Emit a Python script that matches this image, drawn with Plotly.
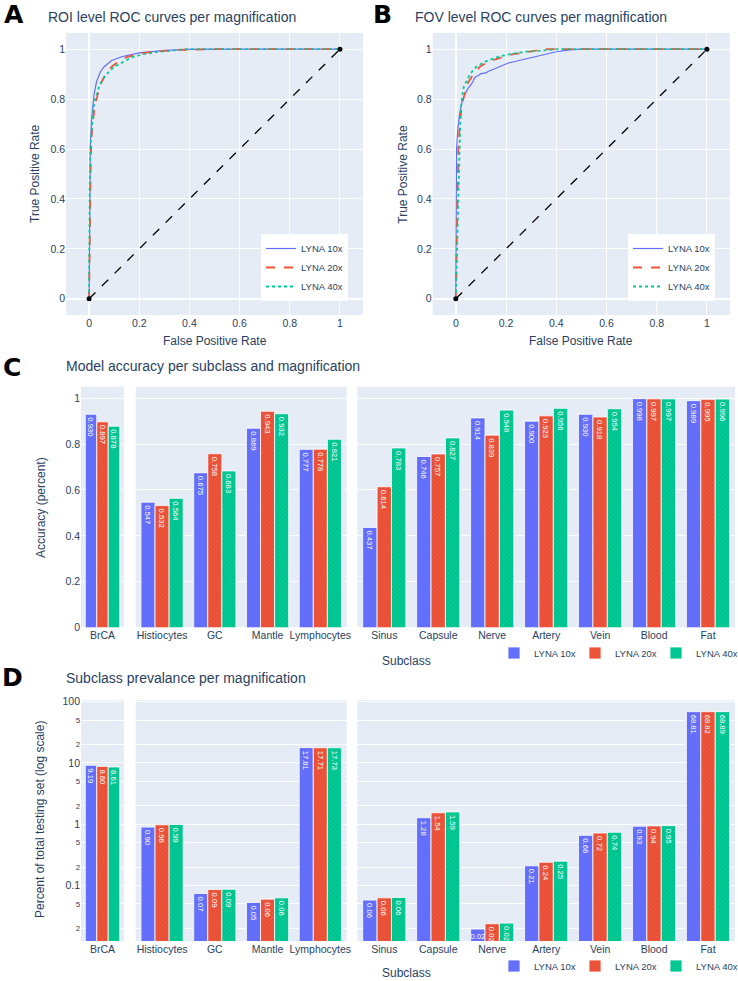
import plotly.graph_objects as go

W, H = 738, 981
FONT = "Liberation Sans, Arial, sans-serif"
TXT = "#2a3f5f"

mags = ["LYNA 10x", "LYNA 20x", "LYNA 40x"]
colors = ["#636efa", "#EF553B", "#00cc96"]
pat_fg = [None, "#c9402a", "#00a37a"]

# ---- ROC curves, ROI level (panel A) ----
roi_fpr_10x = [0, 0.002, 0.005, 0.01, 0.015, 0.02, 0.03, 0.045, 0.06, 0.09, 0.13, 0.2, 0.3, 0.4, 0.6, 1.0]
roi_tpr_10x = [0, 0.45, 0.62, 0.72, 0.78, 0.82, 0.87, 0.91, 0.93, 0.955, 0.97, 0.985, 0.995, 0.999, 1.0, 1.0]
roi_fpr_20x = [0, 0.003, 0.007, 0.012, 0.02, 0.03, 0.045, 0.066, 0.09, 0.116, 0.15, 0.19, 0.25, 0.35, 0.5, 1.0]
roi_tpr_20x = [0, 0.4, 0.58, 0.68, 0.75, 0.8, 0.86, 0.9, 0.93, 0.95, 0.968, 0.98, 0.99, 0.997, 1.0, 1.0]
roi_fpr_40x = [0, 0.002, 0.006, 0.012, 0.018, 0.025, 0.04, 0.055, 0.07, 0.1, 0.136, 0.17, 0.215, 0.28, 0.39, 1.0]
roi_tpr_40x = [0, 0.45, 0.62, 0.72, 0.77, 0.8, 0.85, 0.88, 0.9, 0.93, 0.95, 0.967, 0.98, 0.99, 1.0, 1.0]

# ---- ROC curves, FOV level (panel B) ----
fov_fpr_10x = [0, 0.001, 0.003, 0.008, 0.015, 0.025, 0.036, 0.05, 0.062, 0.07, 0.076, 0.09, 0.1, 0.12, 0.13,
               0.15, 0.17, 0.19, 0.21, 0.25, 0.28, 0.32, 0.36, 0.4, 0.455, 0.5, 1.0]
fov_tpr_10x = [0, 0.45, 0.6, 0.68, 0.74, 0.79, 0.82, 0.845, 0.86, 0.875, 0.888, 0.895, 0.902, 0.905, 0.912,
               0.92, 0.93, 0.937, 0.945, 0.955, 0.962, 0.97, 0.98, 0.99, 0.997, 1.0, 1.0]
fov_fpr_20x = [0, 0.003, 0.007, 0.01, 0.016, 0.022, 0.03, 0.045, 0.07, 0.096, 0.13, 0.19, 0.23, 0.3, 0.35, 1.0]
fov_tpr_20x = [0, 0.2, 0.4, 0.6, 0.7, 0.76, 0.8, 0.86, 0.9, 0.93, 0.95, 0.97, 0.98, 0.99, 1.0, 1.0]
fov_fpr_40x = [0, 0.005, 0.009, 0.013, 0.019, 0.025, 0.032, 0.056, 0.082, 0.116, 0.17, 0.215, 0.28, 0.4, 1.0]
fov_tpr_40x = [0, 0.2, 0.4, 0.6, 0.75, 0.81, 0.85, 0.9, 0.93, 0.95, 0.97, 0.98, 0.99, 1.0, 1.0]

chance_x = [0, 1]
chance_y = [0, 1]

# ---- Subclasses (panels C and D) ----
categories = ["BrCA", "Histiocytes", "GC", "Mantle", "Lymphocytes",
              "Sinus", "Capsule", "Nerve", "Artery", "Vein", "Blood", "Fat"]
group_sizes = [1, 4, 7]

acc_10x = [0.930, 0.547, 0.675, 0.869, 0.777, 0.437, 0.746, 0.914, 0.900, 0.930, 0.998, 0.989]
acc_20x = [0.897, 0.532, 0.758, 0.943, 0.778, 0.614, 0.757, 0.839, 0.923, 0.918, 0.997, 0.995]
acc_40x = [0.878, 0.564, 0.683, 0.932, 0.821, 0.783, 0.827, 0.948, 0.956, 0.954, 0.997, 0.996]

prev_10x = [9.19, 0.90, 0.074, 0.053, 17.81, 0.058, 1.28, 0.0195, 0.21, 0.66, 0.93, 68.81]
prev_20x = [8.80, 0.98, 0.086, 0.060, 17.71, 0.063, 1.54, 0.0238, 0.24, 0.72, 0.94, 68.82]
prev_40x = [8.61, 0.99, 0.087, 0.063, 17.73, 0.064, 1.59, 0.0244, 0.25, 0.74, 0.95, 68.89]


def px_x(p):
    return p / W


def px_y(p):
    return 1 - p / H


fig = go.Figure()

# ---------- ROC panels ----------
roc_sets = [
    ("x", "y", "legend", [(roi_fpr_10x, roi_tpr_10x), (roi_fpr_20x, roi_tpr_20x), (roi_fpr_40x, roi_tpr_40x)]),
    ("x2", "y2", "legend2", [(fov_fpr_10x, fov_tpr_10x), (fov_fpr_20x, fov_tpr_20x), (fov_fpr_40x, fov_tpr_40x)]),
]
dashes = ["solid", "dash", "dot"]
widths = [1.2, 1.8, 1.8]
for xa, ya, lg, curves in roc_sets:
    for i, (fx, ty) in enumerate(curves):
        fig.add_trace(go.Scatter(
            x=fx, y=ty, mode="lines", name=mags[i], xaxis=xa, yaxis=ya, legend=lg,
            line=dict(color=colors[i], dash=dashes[i], width=widths[i]),
        ))
    fig.add_trace(go.Scatter(
        x=chance_x, y=chance_y, mode="lines+markers", showlegend=False, xaxis=xa, yaxis=ya,
        line=dict(color="black", dash="dash", width=1.3), marker=dict(color="black", size=5),
    ))

# ---------- Bar panels ----------
def split(vals):
    out, s = [], 0
    for g in group_sizes:
        out.append(vals[s:s + g])
        s += g
    return out


cat_groups = split(categories)
bar_panels = [
    ([acc_10x, acc_20x, acc_40x], ["x3", "x4", "x5"], ["y3", "y4", "y5"], "legend3", "%{y:.3f}"),
    ([prev_10x, prev_20x, prev_40x], ["x6", "x7", "x8"], ["y6", "y7", "y8"], "legend4", "%{y:.2f}"),
]
for series, xas, yas, lg, tt in bar_panels:
    for gi in range(3):
        for mi in range(3):
            vals = split(series[mi])[gi]
            marker = dict(color=colors[mi], line=dict(color="#ffffff", width=0.8))
            if pat_fg[mi]:
                marker["pattern"] = dict(shape="/", size=3, solidity=0.3, fgcolor=pat_fg[mi], fillmode="overlay")
            fig.add_trace(go.Bar(
                x=cat_groups[gi], y=vals, name=mags[mi], xaxis=xas[gi], yaxis=yas[gi],
                legend=lg, legendgroup=lg + mags[mi], showlegend=(gi == 0),
                marker=marker, texttemplate=tt, textposition="inside",
                insidetextanchor="end", textfont=dict(color="white", size=11, family=FONT),
            ))

axis_common = dict(automargin=False, tickfont=dict(size=10.5, family=FONT, color=TXT))

layout = dict(
    width=W, height=H, margin=dict(l=0, r=0, t=0, b=0),
    font=dict(family=FONT, color=TXT),
    plot_bgcolor="#E5ECF6", paper_bgcolor="white",
    barmode="group", bargap=0.2, bargroupgap=0,
    uniformtext=dict(minsize=7, mode="show"),
)

# ROC axes
roc_x_dom = [[66, 363], [432.7, 730]]
for k, (a, b) in enumerate(roc_x_dom):
    sx = "" if k == 0 else "2"
    layout["xaxis" + sx] = dict(domain=[px_x(a), px_x(b)], anchor="y" + sx, range=[-0.092, 1.092], dtick=0.2, **axis_common)
    layout["yaxis" + sx] = dict(domain=[px_y(315), px_y(33)], anchor="x" + sx, range=[-0.065, 1.065], dtick=0.2, **axis_common)

bar_x_dom = [[81, 124], [135.7, 346.7], [357.3, 735]]
for pi, (ytop, ybot, ytype) in enumerate([(386.7, 627.7, "linear"), (700, 941, "log")]):
    for gi in range(3):
        n = 3 + pi * 3 + gi
        ax = dict(domain=[px_x(bar_x_dom[gi][0]), px_x(bar_x_dom[gi][1])], anchor="y%d" % n, **axis_common)
        ay = dict(domain=[px_y(ybot), px_y(ytop)], anchor="x%d" % n, showticklabels=(gi == 0), **axis_common)
        if ytype == "linear":
            ay.update(range=[0, 1.05], dtick=0.2)
        else:
            ay.update(type="log", range=[-1.905, 2.028], dtick="D2")
        layout["xaxis%d" % n] = ax
        layout["yaxis%d" % n] = ay

leg_font = dict(size=9.5, family=FONT, color=TXT)
layout["legend"] = dict(x=px_x(348), xanchor="right", y=px_y(301), yanchor="bottom", bgcolor="white", font=leg_font,
                        tracegroupgap=0)
layout["legend2"] = dict(x=px_x(715), xanchor="right", y=px_y(301), yanchor="bottom", bgcolor="white", font=leg_font)
layout["legend3"] = dict(orientation="h", x=px_x(737), xanchor="right", y=px_y(653), yanchor="middle",
                         bgcolor="rgba(0,0,0,0)", font=leg_font, entrywidth=36)
layout["legend4"] = dict(orientation="h", x=px_x(737), xanchor="right", y=px_y(966), yanchor="middle",
                         bgcolor="rgba(0,0,0,0)", font=leg_font, entrywidth=36)

ann = []


def add_text(text, x, y, size, xanchor="center", angle=0, color=TXT, family=FONT):
    ann.append(dict(text=text, x=px_x(x), y=px_y(y), xref="paper", yref="paper", showarrow=False,
                    xanchor=xanchor, yanchor="middle", textangle=angle,
                    font=dict(size=size, color=color, family=family)))


LETTER_FONT = "DejaVu Sans, Liberation Sans, Arial"
for letter, lx, ly in [("A", 13.5, 15), ("B", 382.5, 15), ("C", 12, 367), ("D", 12, 677)]:
    add_text("<b>%s</b>" % letter, lx, ly, 25, color="black", family=LETTER_FONT)

add_text("ROI level ROC curves per magnification", 45.7, 17, 14, xanchor="left")
add_text("FOV level ROC curves per magnification", 412.7, 17, 14, xanchor="left")
add_text("Model accuracy per subclass and magnification", 64, 366, 14, xanchor="left")
add_text("Subclass prevalance per magnification", 64, 678, 14, xanchor="left")

add_text("False Positive Rate", 214.5, 341, 12)
add_text("False Positive Rate", 581, 341, 12)
add_text("True Positive Rate", 35, 174, 12, angle=-90)
add_text("True Positive Rate", 402.7, 174, 12, angle=-90)
add_text("Accuracy (percent)", 41, 508, 12, angle=-90)
add_text("Percent of total testing set (log scale)", 40, 820, 12, angle=-90)
add_text("Subclass", 407, 661, 12)
add_text("Subclass", 407, 973, 12)

layout["annotations"] = ann
fig.update_layout(**layout)

fig.write_html("out.html", config={"displayModeBar": False},
               post_script="document.body.style.margin='0px';document.body.style.overflow='hidden';")
